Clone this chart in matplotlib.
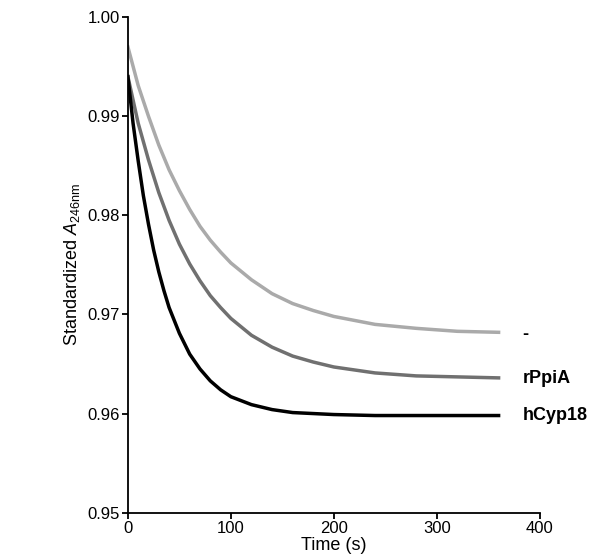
import matplotlib.pyplot as plt
plt.rcParams['font.family'] = ['Liberation Sans', 'DejaVu Sans']
plt.rcParams['mathtext.fontset'] = 'custom'
plt.rcParams['mathtext.it'] = 'Liberation Sans:italic'
plt.rcParams['mathtext.rm'] = 'Liberation Sans'

t_light = [0, 10, 20, 30, 40, 50, 60, 70, 80, 90, 100, 120, 140, 160, 180, 200, 240, 280, 320, 360]
y_light = [.9970, .9931, .9900, .9871, .9846, .9825, .9806, .9789, .9775, .9763, .9752, .9735, .9721, .9711, .9704, .9698, .9690, .9686, .9683, .9682]
t_mid = [0, 10, 20, 30, 40, 50, 60, 70, 80, 90, 100, 120, 140, 160, 180, 200, 240, 280, 320, 360]
y_mid = [.9940, .9893, .9856, .9823, .9795, .9771, .9751, .9734, .9719, .9707, .9696, .9679, .9667, .9658, .9652, .9647, .9641, .9638, .9637, .9636]
t_black = [0, 5, 10, 15, 20, 25, 30, 35, 40, 50, 60, 70, 80, 90, 100, 120, 140, 160, 200, 240, 360]
y_black = [.9940, .9893, .9855, .9820, .9791, .9765, .9743, .9724, .9707, .9681, .9660, .9645, .9633, .9624, .9617, .9609, .9604, .9601, .9599, .9598, .9598]
labels = ['-', 'rPpiA', 'hCyp18']
label_y = [.968, .9635, .9598]

fig = plt.figure(figsize=(6.12, 5.56), dpi=100)
ax = fig.add_axes([0.209, 0.078, 0.673, 0.891])
ax.plot(t_light, y_light, color='#aaaaaa', lw=2.5)
ax.plot(t_mid, y_mid, color='#707070', lw=2.5)
ax.plot(t_black, y_black, color='#000000', lw=2.5)
for lab, y in zip(labels, label_y):
    ax.text(383, y, lab, fontsize=13, fontweight='bold', va='center', ha='left', clip_on=False)
ax.set_xlim(0, 400)
ax.set_ylim(0.95, 1.00)
ax.set_xticks([0, 100, 200, 300, 400])
ax.set_yticks([0.95, 0.96, 0.97, 0.98, 0.99, 1.00])
ax.set_yticklabels(['0.95', '0.96', '0.97', '0.98', '0.99', '1.00'])
ax.tick_params(labelsize=12, width=1.3, length=4, pad=2)
for s in ['top', 'right']:
    ax.spines[s].set_visible(False)
for s in ['left', 'bottom']:
    ax.spines[s].set_linewidth(1.3)
ax.set_xlabel('Time (s)', fontsize=13, labelpad=1)
ax.set_ylabel('Standardized $A_{246\\mathrm{nm}}$', fontsize=13)
fig.savefig('out.png')
